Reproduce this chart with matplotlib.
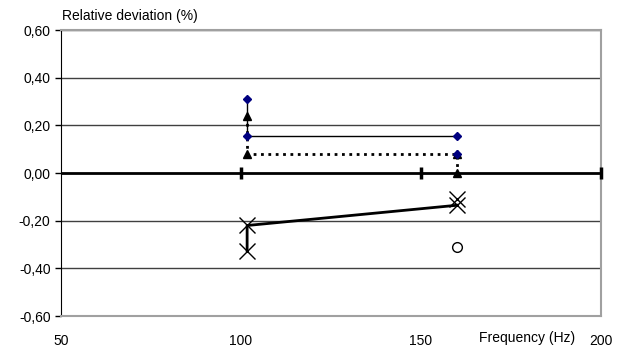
import numpy as np
import matplotlib.pyplot as plt

plt.rcParams['font.family'] = ['Liberation Sans', 'DejaVu Sans']

# data
diam_x = [101.7, 101.7, 160, 160]
diam_y = [0.31, 0.155, 0.155, 0.08]
tri_x = [101.7, 101.7, 160, 160]
tri_y = [0.24, 0.08, 0.08, 0.0]
cross_x = [101.7, 101.7, 160, 160]
cross_y = [-0.325, -0.22, -0.135, -0.11]
circ_x = [160]
circ_y = [-0.31]
xticks = [50, 100, 150, 200]
yticks = [-0.6, -0.4, -0.2, 0.0, 0.2, 0.4, 0.6]

fig = plt.figure(figsize=(6.32, 3.5), dpi=100)
ax = fig.add_axes([0.0965, 0.097, 0.8545, 0.817])

for y in yticks:
    if y != 0:
        ax.axhline(y, color='#404040', lw=1, zorder=1)
ax.axhline(0, color='black', lw=2, zorder=2)
ax.plot(xticks[1:], [0] * 3, '|', color='black', ms=9, mew=2.5, zorder=6, clip_on=False)

# diamonds with thin solid line
ax.plot(diam_x[:3], diam_y[:3], '-', color='black', lw=1, zorder=3)
ax.plot(diam_x, diam_y, 'D', color='#000080', ms=4, zorder=5)
# triangles with dotted line
ax.plot(tri_x, tri_y, ':', color='black', lw=2, zorder=3)
ax.plot(tri_x, tri_y, '^', color='black', ms=6, zorder=4)
# crosses with thick line
ax.plot(cross_x[:3], cross_y[:3], '-', color='black', lw=2, zorder=3)
ax.plot(cross_x, cross_y, 'x', color='black', ms=11, mew=1, zorder=4)
# open circle
ax.plot(circ_x, circ_y, 'o', mfc='white', mec='black', ms=7, mew=1, zorder=4)

ax.set_xlim(50, 200)
ax.set_ylim(-0.6, 0.6)
ax.set_xticks(xticks)
ax.set_xticklabels([str(v) for v in xticks], fontsize=10)
ax.set_yticks(yticks)
ax.set_yticklabels([('%.2f' % v).replace('.', ',') for v in yticks], fontsize=10)
ax.tick_params(axis='x', length=0, pad=13)
ax.tick_params(axis='y', length=4, width=1, direction='out', color='black')

for s in ['top', 'right', 'bottom']:
    ax.spines[s].set_color('#a0a0a0')
    ax.spines[s].set_linewidth(1.5)
ax.spines['left'].set_color('black')

fig.text(0.098, 0.935, 'Relative deviation (%)', fontsize=10, ha='left', va='bottom')
fig.text(0.91, 0.015, 'Frequency (Hz)', fontsize=10, ha='right', va='bottom')

fig.savefig('out.png', dpi=100)
